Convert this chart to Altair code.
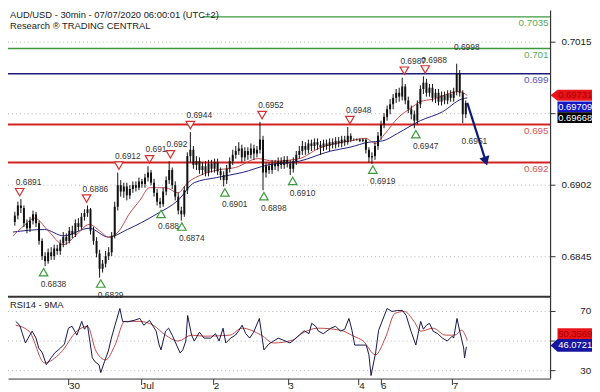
import altair as alt
import pandas as pd

W, H = 550, 373

# ---------------- price data (hourly candles) ----------------
bar_t = list(range(150))
opens = [
    0.6873, 0.6878, 0.6886, 0.6884, 0.6872, 0.6868, 0.6874, 0.6879, 0.6872, 0.6858,
    0.6846, 0.6842, 0.6849, 0.6846, 0.6852, 0.6850, 0.6856, 0.6861, 0.6858, 0.6866,
    0.6863, 0.6872, 0.6869, 0.6877, 0.6880, 0.6883, 0.6866, 0.6858, 0.6848, 0.6836,
    0.6840, 0.6846, 0.6849, 0.6862, 0.6885, 0.6902, 0.6897, 0.6901, 0.6894, 0.6899,
    0.6902, 0.6900, 0.6905, 0.6903, 0.6908, 0.6912, 0.6904, 0.6896, 0.6889, 0.6887,
    0.6897, 0.6906, 0.6914, 0.6902, 0.6893, 0.6882, 0.6879, 0.6898, 0.6925, 0.6930,
    0.6918, 0.6921, 0.6914, 0.6917, 0.6912, 0.6919, 0.6915, 0.6920, 0.6913, 0.6910,
    0.6906, 0.6915, 0.6921, 0.6926, 0.6929, 0.6931, 0.6924, 0.6929, 0.6926, 0.6931,
    0.6927, 0.6930, 0.6938, 0.6912, 0.6917, 0.6914, 0.6919, 0.6917, 0.6921, 0.6918,
    0.6922, 0.6919, 0.6915, 0.6921, 0.6926, 0.6929, 0.6933, 0.6930, 0.6935, 0.6933,
    0.6936, 0.6934, 0.6932, 0.6935, 0.6933, 0.6936, 0.6934, 0.6937, 0.6935, 0.6938,
    0.6936, 0.6941, 0.6938, 0.6938, 0.6938, 0.6937, 0.6938, 0.6930, 0.6924, 0.6925,
    0.6933, 0.6941, 0.6950, 0.6956, 0.6962, 0.6966, 0.6971, 0.6975, 0.6972, 0.6980,
    0.6969, 0.6962, 0.6958, 0.6953, 0.6966, 0.6978, 0.6983, 0.6975, 0.6979, 0.6971,
    0.6975, 0.6968, 0.6973, 0.6969, 0.6974, 0.6971, 0.6976, 0.6990, 0.6975, 0.6958,
]
highs = [
    0.6881, 0.6889, 0.6891, 0.6886, 0.6875, 0.6877, 0.6882, 0.6881, 0.6874, 0.6860,
    0.6849, 0.6852, 0.6853, 0.6855, 0.6855, 0.6859, 0.6865, 0.6864, 0.6869, 0.6870,
    0.6875, 0.6876, 0.6880, 0.6883, 0.6886, 0.6884, 0.6869, 0.6861, 0.6851, 0.6843,
    0.6850, 0.6853, 0.6865, 0.6889, 0.6912, 0.6906, 0.6904, 0.6904, 0.6902, 0.6905,
    0.6905, 0.6908, 0.6907, 0.6911, 0.6917, 0.6914, 0.6907, 0.6899, 0.6892, 0.6900,
    0.6909, 0.6921, 0.6916, 0.6905, 0.6896, 0.6885, 0.6901, 0.6928, 0.6944, 0.6933,
    0.6925, 0.6924, 0.6920, 0.6921, 0.6922, 0.6922, 0.6923, 0.6923, 0.6916, 0.6913,
    0.6918, 0.6924, 0.6930, 0.6933, 0.6936, 0.6934, 0.6932, 0.6932, 0.6935, 0.6934,
    0.6933, 0.6952, 0.6941, 0.6920, 0.6920, 0.6922, 0.6922, 0.6924, 0.6924, 0.6925,
    0.6925, 0.6922, 0.6924, 0.6929, 0.6933, 0.6937, 0.6936, 0.6938, 0.6938, 0.6939,
    0.6939, 0.6937, 0.6938, 0.6938, 0.6939, 0.6939, 0.6940, 0.6940, 0.6941, 0.6941,
    0.6948, 0.6943, 0.6939, 0.6939, 0.6939, 0.6939, 0.6939, 0.6932, 0.6928, 0.6936,
    0.6944, 0.6953, 0.6959, 0.6965, 0.6970, 0.6974, 0.6978, 0.6979, 0.6987, 0.6982,
    0.6972, 0.6965, 0.6961, 0.6969, 0.6981, 0.6988, 0.6986, 0.6982, 0.6982, 0.6978,
    0.6978, 0.6976, 0.6976, 0.6977, 0.6977, 0.6979, 0.6998, 0.6993, 0.6977, 0.6969,
]
lows = [
    0.6870, 0.6875, 0.6880, 0.6869, 0.6864, 0.6865, 0.6871, 0.6869, 0.6855, 0.6843,
    0.6838, 0.6840, 0.6843, 0.6843, 0.6847, 0.6847, 0.6853, 0.6855, 0.6856, 0.6860,
    0.6861, 0.6866, 0.6867, 0.6874, 0.6877, 0.6863, 0.6855, 0.6845, 0.6829, 0.6833,
    0.6837, 0.6843, 0.6846, 0.6860, 0.6882, 0.6893, 0.6892, 0.6890, 0.6891, 0.6896,
    0.6897, 0.6898, 0.6900, 0.6900, 0.6905, 0.6902, 0.6893, 0.6886, 0.6884, 0.6885,
    0.6894, 0.6903, 0.6899, 0.6890, 0.6879, 0.6874, 0.6877, 0.6895, 0.6920, 0.6915,
    0.6914, 0.6911, 0.6910, 0.6909, 0.6909, 0.6912, 0.6912, 0.6910, 0.6906, 0.6901,
    0.6903, 0.6912, 0.6918, 0.6923, 0.6926, 0.6920, 0.6921, 0.6922, 0.6923, 0.6922,
    0.6924, 0.6927, 0.6898, 0.6908, 0.6911, 0.6911, 0.6914, 0.6913, 0.6915, 0.6915,
    0.6916, 0.6910, 0.6912, 0.6918, 0.6923, 0.6926, 0.6926, 0.6927, 0.6929, 0.6930,
    0.6930, 0.6926, 0.6929, 0.6930, 0.6929, 0.6931, 0.6931, 0.6932, 0.6932, 0.6933,
    0.6934, 0.6936, 0.6937, 0.6937, 0.6936, 0.6936, 0.6927, 0.6920, 0.6919, 0.6922,
    0.6930, 0.6938, 0.6947, 0.6953, 0.6958, 0.6962, 0.6967, 0.6968, 0.6969, 0.6966,
    0.6959, 0.6954, 0.6947, 0.6950, 0.6963, 0.6974, 0.6972, 0.6972, 0.6968, 0.6967,
    0.6965, 0.6965, 0.6966, 0.6966, 0.6968, 0.6968, 0.6973, 0.6972, 0.6951, 0.6955,
]
closes = [
    0.6878, 0.6886, 0.6884, 0.6872, 0.6868, 0.6874, 0.6879, 0.6872, 0.6858, 0.6846,
    0.6842, 0.6849, 0.6846, 0.6852, 0.6850, 0.6856, 0.6861, 0.6858, 0.6866, 0.6863,
    0.6872, 0.6869, 0.6877, 0.6880, 0.6883, 0.6866, 0.6858, 0.6848, 0.6836, 0.6840,
    0.6846, 0.6849, 0.6862, 0.6885, 0.6902, 0.6897, 0.6901, 0.6894, 0.6899, 0.6902,
    0.6900, 0.6905, 0.6903, 0.6908, 0.6912, 0.6904, 0.6896, 0.6889, 0.6887, 0.6897,
    0.6906, 0.6914, 0.6902, 0.6893, 0.6882, 0.6879, 0.6898, 0.6925, 0.6930, 0.6918,
    0.6921, 0.6914, 0.6917, 0.6912, 0.6919, 0.6915, 0.6920, 0.6913, 0.6910, 0.6906,
    0.6915, 0.6921, 0.6926, 0.6929, 0.6931, 0.6924, 0.6929, 0.6926, 0.6931, 0.6927,
    0.6930, 0.6938, 0.6912, 0.6917, 0.6914, 0.6919, 0.6917, 0.6921, 0.6918, 0.6922,
    0.6919, 0.6915, 0.6921, 0.6926, 0.6929, 0.6933, 0.6930, 0.6935, 0.6933, 0.6936,
    0.6934, 0.6932, 0.6935, 0.6933, 0.6936, 0.6934, 0.6937, 0.6935, 0.6938, 0.6936,
    0.6941, 0.6938, 0.6938, 0.6938, 0.6937, 0.6938, 0.6930, 0.6924, 0.6925, 0.6933,
    0.6941, 0.6950, 0.6956, 0.6962, 0.6966, 0.6971, 0.6975, 0.6972, 0.6980, 0.6969,
    0.6962, 0.6958, 0.6953, 0.6966, 0.6978, 0.6983, 0.6975, 0.6979, 0.6971, 0.6975,
    0.6968, 0.6973, 0.6969, 0.6974, 0.6971, 0.6976, 0.6990, 0.6975, 0.6958, 0.6967,
]

# moving averages drawn on the price chart
ma_fast_t = [-0.6, 3, 6.6, 11, 16.1, 20, 24.6, 28, 30.9, 34.1, 38, 41.3, 44.5, 49.8, 53.9,
             57.1, 62.5, 67, 72.9, 80.4, 85.5, 94, 100.3, 110.7, 116, 119, 122.4, 126.5,
             130.9, 134, 138.2, 146.7, 149.5]
ma_fast_v = [0.6862, 0.6870, 0.6876, 0.6866, 0.6855, 0.6862, 0.6871, 0.6866, 0.6861, 0.6865,
             0.6880, 0.6890, 0.6900, 0.6900, 0.6896, 0.6904, 0.6911, 0.6914, 0.6916, 0.6923,
             0.6921, 0.6923, 0.6931, 0.6937, 0.6939, 0.6935, 0.6943, 0.6955, 0.6963, 0.6968,
             0.6970, 0.6976, 0.6973]
ma_slow_t = [-0.6, 9.8, 16.1, 24.6, 30.9, 37.2, 46.7, 53.9, 59.3, 66.6, 75.1, 83.6, 94,
             104.4, 110.7, 117, 121.5, 126.5, 134, 141.3, 147.6, 149.5]
ma_slow_v = [0.6865, 0.6867, 0.6862, 0.6868, 0.6861, 0.6867, 0.6879, 0.6890, 0.6904, 0.6908,
             0.6912, 0.6918, 0.6921, 0.6929, 0.6932, 0.6936, 0.6937, 0.6943, 0.6953, 0.6960,
             0.6970, 0.6971]

# horizontal key levels
level_values = [0.7035, 0.7010, 0.6990, 0.6950, 0.6920]
level_labels = ["0.7035", "0.701", "0.699", "0.695", "0.692"]
level_colors = ["#3c9a3c", "#3c9a3c", "#1c1c7a", "#d42222", "#d42222"]
level_text_colors = ["#5aae5a", "#5aae5a", "#5858b8", "#d85656", "#d85656"]
level_widths = [1.5, 1.5, 1.5, 2.0, 2.0]

# swing highs / lows
high_t = [1.6, 23.7, 34.4, 44.5, 51.4, 58.0, 81.7, 110.7, 128.7, 135.6]
high_v = [0.6891, 0.6886, 0.6912, 0.6917, 0.6921, 0.6944, 0.6952, 0.6948, 0.6987, 0.6988]
high_labels = ["0.6891", "0.6886", "0.6912", "0.691", "0.692", "0.6944", "0.6952",
               "0.6948", "0.6987", "0.6988"]
low_t = [9.5, 28.4, 48.3, 55.2, 69.4, 82.3, 91.8, 118.3, 132.5]
low_v = [0.6838, 0.6829, 0.6884, 0.6874, 0.6901, 0.6898, 0.6910, 0.6919, 0.6947]
low_labels = ["0.6838", "0.6829", "0.688", "0.6874", "0.6901", "0.6898", "0.6910",
              "0.6919", "0.6947"]
extra_high_t = [146.4]
extra_high_v = [0.6998]
extra_high_labels = ["0.6998"]
extra_low_t = [148.6]
extra_low_v = [0.6951]
extra_low_labels = ["0.6951"]

# forecast arrow
fc_t = [149.5, 155.6]
fc_v = [0.6967, 0.6921]

# price axis (the 0.6958 tick label sits hidden behind the price badges in the original)
price_ticks = [0.7015, 0.69585, 0.6902, 0.68455]
price_label_ticks = [0.7015, 0.6902, 0.68455]
price_tick_labels = ["0.7015", "0.6902", "0.6845"]

# ---------------- RSI data ----------------
rsi_t = [0.3, 1.6, 2.5, 3.5, 4.4, 5.7, 7.0, 7.9, 9.1, 10.4, 12.0, 13.2, 15.1, 16.4, 17.7,
         18.9, 20.5, 22.1, 23.0, 24.0, 25.6, 26.5, 27.8, 28.4, 29.6, 30.9, 31.9, 33.1,
         34.7, 35.6, 37.2, 39.4, 41.3, 42.6, 44.5, 45.7, 46.7, 47.6, 48.3, 49.8, 50.8,
         52.0, 53.3, 54.6, 55.5, 56.5, 57.1, 58.4, 59.3, 61.0, 62.5, 64.7, 66.3, 67.5,
         68.8, 69.7, 71.3, 72.9, 74.0, 75.1, 76.3, 77.6, 78.9, 80.8, 82.3, 83.9, 85.5,
         87.0, 88.6, 90.9, 92.4, 94.0, 95.6, 97.2, 98.1, 99.4, 100.3, 101.9, 104.4, 106.0,
         107.6, 109.0, 110.4, 111.4, 112.3, 116.1, 117.0, 117.7, 119.2, 120.2, 123.0,
         124.6, 126.5, 128.1, 129.3, 130.9, 132.5, 134.1, 135.0, 136.0, 137.0, 138.2,
         139.7, 141.3, 142.9, 144.5, 145.0, 146.1, 147.0, 148.3, 148.6, 149.2]
rsi_v = [63.3, 60.7, 55, 48.7, 52, 56.7, 52, 45.3, 42, 34, 38.7, 42, 45.3, 48, 58.7,
         60, 54, 63.3, 58, 60.7, 38.7, 36, 34, 28.7, 36, 43.3, 52, 60.7,
         72, 63.3, 63, 64, 65.3, 60.7, 64, 60, 56.7, 48, 44, 56.7, 58.7,
         54, 48, 42, 44, 50, 67.3, 54, 50, 56, 52, 52, 55, 50,
         58.7, 48.7, 52, 54, 57, 60.7, 55, 52, 56, 65.3, 44, 48, 50,
         52, 50.7, 48.7, 51, 54, 57, 55, 62, 60, 56.7, 55, 58.7, 60,
         56.7, 58, 65.3, 57.3, 47.3, 47.3, 40.7, 26.7, 42, 57.3, 72,
         70, 70.7, 70.7, 67.3, 56.7, 47.3, 63.3, 58, 60.7, 62, 56.7,
         55, 52, 50, 53.3, 52, 65.3, 56.7, 45.3, 38.7, 46.1]
rsi_ma_t = [0.3, 4.7, 9.8, 15.1, 20.5, 24.0, 26.8, 30.0, 33.1, 36.3, 41.3, 45.7, 49.8, 53.9,
            58.4, 62.5, 71.0, 75.1, 81.4, 85.5, 91.8, 94.0, 100.3, 107.6, 112.0, 115.1,
            119.2, 122.4, 125.6, 128.7, 131.9, 134.1, 138.2, 142.3, 145.4, 147.6, 149.5]
rsi_ma_v = [60.7, 56.7, 35.3, 42, 56.7, 60, 43.3, 37.3, 47.3, 63.3, 63.3, 60.7, 54, 50,
            54, 53.3, 54, 58.7, 54, 48.7, 50.7, 54, 58.7, 57.3, 53.3, 50,
            40.7, 52, 68.7, 70, 63.3, 56.7, 58.7, 54, 54, 57.3, 50.4]
# (the 50 label is hidden behind the RSI badges in the original)
rsi_ticks = [70, 50, 30]
rsi_label_ticks = [70, 30]
rsi_tick_labels = ["70", "30"]

# date axis
day_ticks = [17.7, 41.6, 65.6, 90.2, 113.6, 120.8, 144.5]
day_labels = ["30", "Jul", "2", "3", "4", "6", "7"]

# ---------------- scales / encodings ----------------
day_expr = ("datum.value < 30 ? '{0}' : datum.value < 50 ? '{1}' : datum.value < 80 ? '{2}' : "
            "datum.value < 100 ? '{3}' : datum.value < 117 ? '{4}' : datum.value < 130 ? '{5}' : '{6}'"
            ).format(*day_labels)
xscale = alt.Scale(domain=[-0.631, 175.39], nice=False, zero=False)
xaxis = alt.Axis(values=day_ticks, labelExpr=day_expr, grid=False, domain=True,
                 domainColor="#333333", domainWidth=1, ticks=True, tickColor="#333333",
                 tickSize=6, labelAlign="left", labelBaseline="top", labelPadding=-4,
                 labelFontSize=10, labelColor="#222222", labelFlush=False,
                 labelOverlap=False, title=None)
X = alt.X("t:Q", scale=xscale, axis=xaxis)

ps = alt.Scale(domain=[0.681393, 0.703996], range=[290, 0], nice=False, zero=False)
rs = alt.Scale(domain=[24.67, 79.33], range=[373, 291], nice=False, zero=False)


def PY(f):
    return alt.Y(f + ":Q", scale=ps, axis=None)


def RY(f):
    return alt.Y(f + ":Q", scale=rs, axis=None)


one = pd.DataFrame({"a": [0]})
FONT = "Liberation Sans"
SW = 8.5  # swing label font size

# ---------------- price panel ----------------
candles = pd.DataFrame({"t": bar_t, "open": opens, "high": highs, "low": lows, "close": closes})
ptick_df = pd.DataFrame({"v": price_ticks})
plab_df = pd.DataFrame({"v": price_label_ticks, "label": price_tick_labels})
lv_df = pd.DataFrame({"v": level_values, "label": level_labels, "c": level_colors,
                      "tc": level_text_colors, "w": level_widths})
hi_df = pd.DataFrame({"t": high_t, "v": high_v, "label": high_labels})
lo_df = pd.DataFrame({"t": low_t, "v": low_v, "label": low_labels})
xhi_df = pd.DataFrame({"t": extra_high_t, "v": extra_high_v, "label": extra_high_labels})
xlo_df = pd.DataFrame({"t": extra_low_t, "v": extra_low_v, "label": extra_low_labels})
fast_df = pd.DataFrame({"t": ma_fast_t, "v": ma_fast_v})
slow_df = pd.DataFrame({"t": ma_slow_t, "v": ma_slow_v})
fc_df = pd.DataFrame({"t": fc_t, "v": fc_v})

p_grid = alt.Chart(ptick_df).mark_rule(color="#b8b8b8", strokeDash=[1, 3], strokeWidth=1).encode(
    y=PY("v"), x=alt.value(0), x2=alt.value(W))
lv_rule = alt.Chart(lv_df).mark_rule().encode(
    y=PY("v"), x=alt.value(0), x2=alt.value(W),
    color=alt.Color("c:N", scale=None), strokeWidth=alt.StrokeWidth("w:Q", scale=None))
lv_text = alt.Chart(lv_df).mark_text(align="right", baseline="middle", dy=6.5, fontSize=10,
                                     font=FONT).encode(
    y=PY("v"), x=alt.value(W - 2), text="label:N", color=alt.Color("tc:N", scale=None))
slow_line = alt.Chart(slow_df).mark_line(color="#1e1e80", strokeWidth=1, interpolate="monotone").encode(
    x=X, y=PY("v"))
fast_line = alt.Chart(fast_df).mark_line(color="#c04848", strokeWidth=1, interpolate="monotone").encode(
    x=X, y=PY("v"))
wick = alt.Chart(candles).mark_rule(color="#111111", strokeWidth=1).encode(
    x=X, y=PY("low"), y2="high:Q")
body = alt.Chart(candles).mark_bar(color="#111111", size=2).encode(
    x=X, y=PY("open"), y2="close:Q")

hi_tri = alt.Chart(hi_df).mark_point(shape="triangle-down", size=75, filled=True, fill="white",
                                     stroke="#d43030", strokeWidth=1.2, opacity=1, yOffset=-7).encode(
    x=X, y=PY("v"))
hi_txt = alt.Chart(hi_df).mark_text(align="left", baseline="middle", dx=-4, dy=-17, fontSize=SW,
                                    color="#333333", font=FONT).encode(x=X, y=PY("v"), text="label:N")
lo_tri = alt.Chart(lo_df).mark_point(shape="triangle-up", size=75, filled=True, fill="white",
                                     stroke="#3c9a3c", strokeWidth=1.2, opacity=1, yOffset=6).encode(
    x=X, y=PY("v"))
lo_txt = alt.Chart(lo_df).mark_text(align="left", baseline="middle", dx=-3, dy=18, fontSize=SW,
                                    color="#333333", font=FONT).encode(x=X, y=PY("v"), text="label:N")
xhi_txt = alt.Chart(xhi_df).mark_text(align="left", baseline="middle", dx=-4, dy=-17, fontSize=SW,
                                      color="#333333", font=FONT).encode(x=X, y=PY("v"), text="label:N")
xlo_txt = alt.Chart(xlo_df).mark_text(align="left", baseline="middle", dx=-3, dy=18, fontSize=SW,
                                      color="#333333", font=FONT).encode(x=X, y=PY("v"), text="label:N")

fc_line = alt.Chart(fc_df).mark_line(color="#0c1a78", strokeWidth=2.2).encode(x=X, y=PY("v"))
fc_head = alt.Chart(fc_df.tail(1)).mark_point(shape="triangle-down", size=110, filled=True,
                                              color="#0c1a78", opacity=1, angle=342).encode(
    x=X, y=PY("v"))

title_box1 = alt.Chart(one).mark_rect(color="white").encode(
    x=alt.value(0), x2=alt.value(197), y=alt.value(0), y2=alt.value(10.5))
title_box2 = alt.Chart(one).mark_rect(color="white").encode(
    x=alt.value(0), x2=alt.value(132), y=alt.value(10.5), y2=alt.value(21))
title1 = alt.Chart(one).mark_text(align="left", baseline="middle", fontSize=9.5, color="#222222",
                                  font=FONT, text="AUD/USD - 30min - 07/07/2020 06:00:01 (UTC+2)").encode(
    x=alt.value(2), y=alt.value(5))
title2 = alt.Chart(one).mark_text(align="left", baseline="middle", fontSize=9.5, color="#222222",
                                  font=FONT, text="Research \u00ae TRADING CENTRAL").encode(
    x=alt.value(2), y=alt.value(16))

p_tick = alt.Chart(ptick_df).mark_rule(color="#333333").encode(
    y=PY("v"), x=alt.value(W), x2=alt.value(W + 5))
p_lab = alt.Chart(plab_df).mark_text(align="left", baseline="middle", fontSize=10, color="#222222",
                                     font=FONT).encode(y=PY("v"), x=alt.value(W + 11), text="label:N")

RECT = "M-1,-0.314L1,-0.314L1,0.314L-1,0.314Z"
ARROW = "M-1.4,0L-1,-0.314L1,-0.314L1,0.314L-1,0.314Z"
RECT_T = "M-1,-0.371L1,-0.371L1,0.371L-1,0.371Z"
ARROW_T = "M-1.4,0L-1,-0.371L1,-0.371L1,0.371L-1,0.371Z"


def badge(value, label, fill, tcolor, shape, off, yfun):
    d = pd.DataFrame({"v": [value], "label": [label]})
    box = alt.Chart(d).mark_point(shape=shape, size=1225, filled=True, fill=fill, opacity=1,
                                  strokeWidth=0, yOffset=off).encode(
        x=alt.value(W + 24.5), y=yfun("v"))
    txt = alt.Chart(d).mark_text(align="center", baseline="middle", fontSize=9.5, color=tcolor,
                                 dy=off, font=FONT).encode(
        x=alt.value(W + 25), y=yfun("v"), text="label:N")
    return [box, txt]


price_badges = (badge(0.69731, "0.69731", "#e8141a", "#a80000", ARROW, 0, PY)
                + badge(0.69709, "0.69709", "#1616c8", "white", RECT, 9, PY)
                + badge(0.69668, "0.69668", "#000000", "white", RECT, 14.7, PY))

price = alt.layer(p_grid, lv_rule, slow_line, fast_line, wick, body, lv_text,
                  hi_tri, hi_txt, lo_tri, lo_txt, xhi_txt, xlo_txt, fc_line, fc_head,
                  title_box1, title_box2, title1, title2, p_tick, p_lab, *price_badges)

# ---------------- RSI panel ----------------
rtick_df = pd.DataFrame({"v": rsi_ticks})
rlab_df = pd.DataFrame({"v": rsi_label_ticks, "label": rsi_tick_labels})
rsi_df = pd.DataFrame({"t": rsi_t, "v": rsi_v})
rsi_ma_df = pd.DataFrame({"t": rsi_ma_t, "v": rsi_ma_v})

r_grid = alt.Chart(rtick_df).mark_rule(color="#b8b8b8", strokeDash=[1, 3], strokeWidth=1).encode(
    y=RY("v"), x=alt.value(0), x2=alt.value(W))
r_ma = alt.Chart(rsi_ma_df).mark_line(color="#c04848", strokeWidth=1, interpolate="monotone").encode(
    x=X, y=RY("v"))
r_line = alt.Chart(rsi_df).mark_line(color="#15154a", strokeWidth=1).encode(x=X, y=RY("v"))
r_tick = alt.Chart(rtick_df).mark_rule(color="#333333").encode(
    y=RY("v"), x=alt.value(W), x2=alt.value(W + 5))
r_lab = alt.Chart(rlab_df).mark_text(align="left", baseline="middle", fontSize=10, color="#222222",
                                     font=FONT).encode(y=RY("v"), x=alt.value(W + 30), text="label:N")
r_title = alt.Chart(one).mark_text(align="left", baseline="middle", fontSize=9.5, color="#222222",
                                   font=FONT, text="RSI14 - 9MA").encode(x=alt.value(2), y=alt.value(298))
right_border = alt.Chart(one).mark_rule(color="#333333", strokeWidth=1.2).encode(
    x=alt.value(W), y=alt.value(0), y2=alt.value(H))
separator = alt.Chart(one).mark_rule(color="#333333", strokeWidth=2).encode(
    x=alt.value(0), x2=alt.value(W), y=alt.value(290))

rsi_badges = (badge(50.3569, "50.3569", "#e8141a", "#a80000", RECT, -7, RY)
              + badge(46.0721, "46.0721", "#1616a0", "white", ARROW_T, -1.5, RY))

rsi = alt.layer(r_grid, r_ma, r_line, r_tick, r_lab, r_title, right_border, separator, *rsi_badges)

chart = alt.layer(price, rsi).resolve_scale(y="independent").properties(
    width=W, height=H,
    autosize=alt.AutoSizeParams(type="none"),
    padding={"left": 0, "top": 0, "right": 42, "bottom": 11},
).configure(font=FONT, background="white").configure_view(stroke=None)

chart.save("out.html", embed_options={"renderer": "svg", "actions": False})
